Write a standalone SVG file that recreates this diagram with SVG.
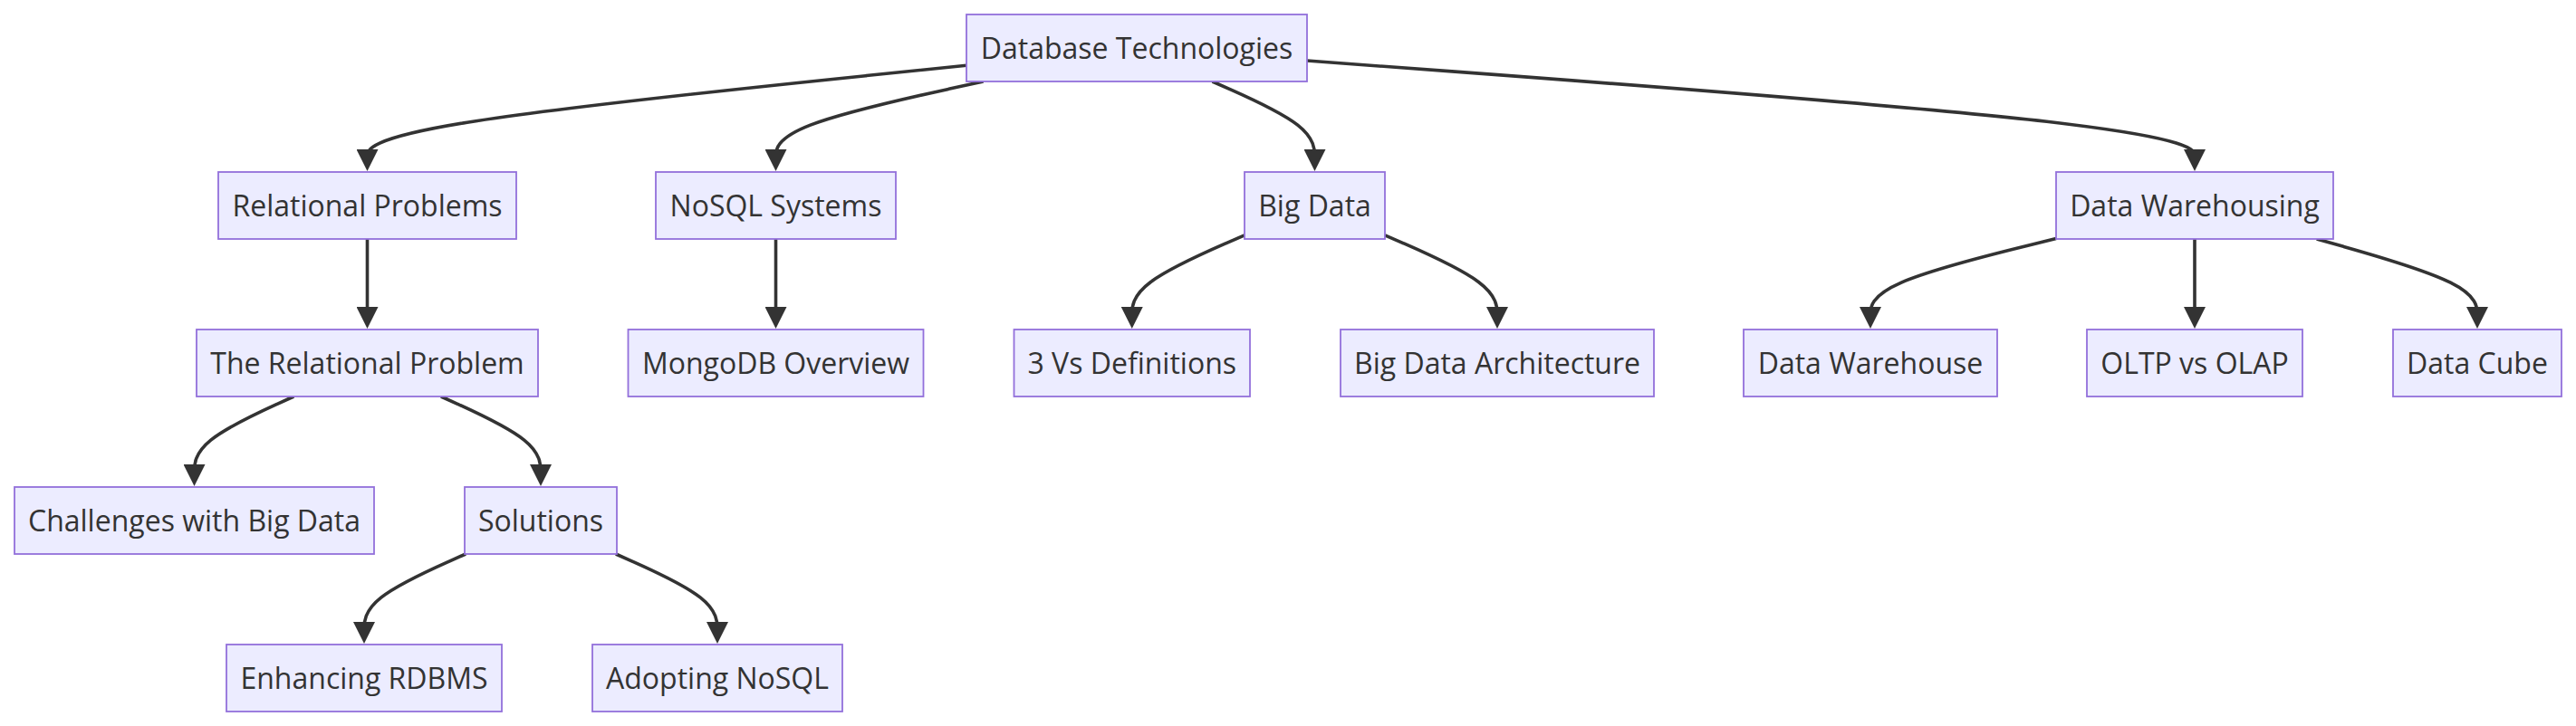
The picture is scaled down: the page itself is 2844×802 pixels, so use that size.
<svg xmlns="http://www.w3.org/2000/svg" width="2844" height="802" viewBox="0 0 2844 802">
<style>
.node rect{fill:#ECECFF;stroke:#9370DB;stroke-width:1.8}
.node text{font-family:"Open Sans","Liberation Sans",sans-serif;font-size:32px;fill:#333333;text-anchor:middle}
.edge{fill:none;stroke:#333333;stroke-width:3.6;marker-end:url(#arrow)}
</style>
<defs>
<marker id="arrow" viewBox="0 0 24 24" markerUnits="userSpaceOnUse" markerWidth="24" markerHeight="24" refX="14" refY="12" orient="auto">
<path d="M0,0 L24,12 L0,24 z" fill="#333333"/>
</marker>
</defs>
<rect width="2844" height="802" fill="#ffffff"/>
<g id="connectors">
<path class="edge" d="M1067,72.3 L956.75,83.58 C846.5,94.87 626,117.43 515.75,135.22 C405.5,153 405.5,166 405.5,172.5 L405.5,179"/>
<path class="edge" d="M1085.6,90 L1047.42,98.33 C1009.23,106.67 932.87,123.33 894.68,138.17 C856.5,153 856.5,166 856.5,172.5 L856.5,179"/>
<path class="edge" d="M1338.5,90 L1357.33,98.33 C1376.17,106.67 1413.83,123.33 1432.67,138.17 C1451.5,153 1451.5,166 1451.5,172.5 L1451.5,179"/>
<path class="edge" d="M1443,67 L1606.33,79.17 C1769.67,91.33 2096.33,115.67 2259.67,134.33 C2423,153 2423,166 2423,172.5 L2423,179"/>
<path class="edge" d="M405.5,264 L405.5,353"/>
<path class="edge" d="M856.5,264 L856.5,353"/>
<path class="edge" d="M2423,264 L2423,353"/>
<path class="edge" d="M1374,259.8 L1353.29,268.83 C1332.58,277.87 1291.17,295.93 1270.46,311.47 C1249.75,327 1249.75,340 1249.75,346.5 L1249.75,353"/>
<path class="edge" d="M1529,259.8 L1549.67,268.83 C1570.33,277.87 1611.67,295.93 1632.33,311.47 C1653,327 1653,340 1653,346.5 L1653,353"/>
<path class="edge" d="M2270,263.6 L2235.83,272 C2201.67,280.4 2133.33,297.2 2099.17,312.1 C2065,327 2065,340 2065,346.5 L2065,353"/>
<path class="edge" d="M2557.7,264 L2587.25,272.33 C2616.8,280.67 2675.9,297.33 2705.45,312.17 C2735,327 2735,340 2735,346.5 L2735,353"/>
<path class="edge" d="M324.3,438 L306,446.33 C287.7,454.67 251.1,471.33 232.8,486.17 C214.5,501 214.5,514 214.5,520.5 L214.5,527"/>
<path class="edge" d="M486.9,438 L505.25,446.33 C523.6,454.67 560.3,471.33 578.65,486.17 C597,501 597,514 597,520.5 L597,527"/>
<path class="edge" d="M514.1,612 L495.42,620.33 C476.73,628.67 439.37,645.33 420.68,660.17 C402,675 402,688 402,694.5 L402,701"/>
<path class="edge" d="M679.9,612 L698.58,620.33 C717.27,628.67 754.63,645.33 773.32,660.17 C792,675 792,688 792,694.5 L792,701"/>
</g>
<g id="n-db" class="node"><rect x="1067" y="16" width="376" height="74"/><text x="1255" y="65">Database Technologies</text></g>
<g id="n-rp" class="node"><rect x="241" y="190" width="329" height="74"/><text x="405.5" y="239">Relational Problems</text></g>
<g id="n-nosql" class="node"><rect x="724" y="190" width="265" height="74"/><text x="856.5" y="239">NoSQL Systems</text></g>
<g id="n-bd" class="node"><rect x="1374" y="190" width="155" height="74"/><text x="1451.5" y="239">Big Data</text></g>
<g id="n-dwing" class="node"><rect x="2270" y="190" width="306" height="74"/><text x="2423" y="239">Data Warehousing</text></g>
<g id="n-trp" class="node"><rect x="217" y="364" width="377" height="74"/><text x="405.5" y="413">The Relational Problem</text></g>
<g id="n-mongo" class="node"><rect x="693.5" y="364" width="326" height="74"/><text x="856.5" y="413">MongoDB Overview</text></g>
<g id="n-3vs" class="node"><rect x="1119.5" y="364" width="260.5" height="74"/><text x="1249.75" y="413">3 Vs Definitions</text></g>
<g id="n-bda" class="node"><rect x="1480" y="364" width="346" height="74"/><text x="1653" y="413">Big Data Architecture</text></g>
<g id="n-dw" class="node"><rect x="1925" y="364" width="280" height="74"/><text x="2065" y="413">Data Warehouse</text></g>
<g id="n-oltp" class="node"><rect x="2304" y="364" width="238" height="74"/><text x="2423" y="413">OLTP vs OLAP</text></g>
<g id="n-cube" class="node"><rect x="2642" y="364" width="186" height="74"/><text x="2735" y="413">Data Cube</text></g>
<g id="n-chal" class="node"><rect x="16" y="538" width="397" height="74"/><text x="214.5" y="587">Challenges with Big Data</text></g>
<g id="n-sol" class="node"><rect x="513" y="538" width="168" height="74"/><text x="597" y="587">Solutions</text></g>
<g id="n-enh" class="node"><rect x="250" y="712" width="304" height="74"/><text x="402" y="761">Enhancing RDBMS</text></g>
<g id="n-adopt" class="node"><rect x="654" y="712" width="276" height="74"/><text x="792" y="761">Adopting NoSQL</text></g>
</svg>
